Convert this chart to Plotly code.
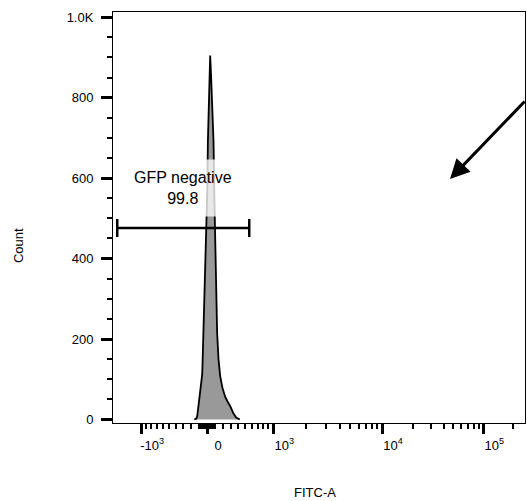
import numpy as np
import plotly.graph_objects as go

# ---------------- data ----------------
FITC = [-160, -135, -123, -111, -98, -86, -74, -61, -49, -37, -25, -12, 0, 9, 18, 28,
        37, 47, 57, 68, 78, 88, 98, 110, 123, 140, 161, 190, 225, 260, 290, 330, 370, 420]
COUNTS = [0, 2, 8, 28, 45, 62, 85, 112, 195, 280, 360, 444, 560, 693, 776, 850,
          905, 860, 810, 776, 693, 560, 444, 320, 215, 150, 108, 78, 56, 43, 33, 16, 5, 0]

GATE_RANGE = [-1650, 560]
GATE_COUNT = 476
GATE_NAME = "GFP negative"
GATE_PERCENT = "99.8"

XTICK_VALUES = [-1000, 0, 1000, 10000, 100000]
XTICK_LABELS = ["-10<sup>3</sup>", "0", "10<sup>3</sup>", "10<sup>4</sup>", "10<sup>5</sup>"]
YTICK_VALUES = [0, 200, 400, 600, 800, 1000]
YTICK_LABELS = ["0", "200", "400", "600", "800", "1.0K"]
X_LIMITS = [-1800, 262144]
Y_LIMITS = [-8.7, 1013]

# ---------------- biexponential (logicle-like) display transform ----------------
P = 2.25
C = 162.8


def _inverse(z):
    z = np.asarray(z, dtype=float)
    a = np.abs(z)
    return np.sign(z) * C * (10 ** a - P ** 2 * 10 ** (-a / P) + P ** 2 - 1)


_Z = np.linspace(-2.0, 4.0, 120001)
_XS = _inverse(_Z)


def biex(x):
    return np.interp(np.asarray(x, dtype=float), _XS, _Z)


minor_vals = []
for dec in [10, 100]:
    for m in range(1, 10):
        minor_vals += [m * dec, -m * dec]
for dec in [1000, 10000]:
    for m in range(2, 10):
        minor_vals.append(m * dec)
minor_vals.append(200000)

fig = go.Figure()

fig.add_trace(go.Scatter(
    x=biex(FITC), y=COUNTS, mode="lines", fill="tozeroy",
    fillcolor="#999999", line=dict(color="black", width=1.8),
    hoverinfo="skip", showlegend=False))

gx = biex(GATE_RANGE)
fig.add_trace(go.Scatter(
    x=list(gx), y=[GATE_COUNT, GATE_COUNT], mode="lines",
    line=dict(color="black", width=2.5), hoverinfo="skip", showlegend=False))
for xv in gx:
    fig.add_shape(type="line", xref="x", yref="y", x0=xv, x1=xv,
                  ysizemode="pixel", yanchor=GATE_COUNT, y0=-9, y1=9,
                  line=dict(color="black", width=2.5))

FONT = "Arial, Liberation Sans, sans-serif"
axis_font = dict(family=FONT, size=13, color="black")

fig.update_layout(
    width=527, height=501,
    margin=dict(l=113, r=2, t=12, b=78),
    paper_bgcolor="white", plot_bgcolor="white",
    font=axis_font, showlegend=False,
    xaxis=dict(
        range=list(biex(X_LIMITS)), tickmode="array",
        tickvals=list(biex(XTICK_VALUES)), ticktext=XTICK_LABELS,
        ticks="outside", ticklen=10, tickwidth=3, tickcolor="black",
        showline=True, linecolor="black", linewidth=1, mirror=True,
        showgrid=False, zeroline=False, tickfont=axis_font,
        ticklabelshift=11,
        minor=dict(tickmode="array", tickvals=list(biex(minor_vals)),
                   ticks="outside", ticklen=5, tickwidth=1.5,
                   tickcolor="black", showgrid=False),
    ),
    yaxis=dict(
        range=Y_LIMITS, tickmode="array", tickvals=YTICK_VALUES,
        ticktext=YTICK_LABELS, ticks="outside", ticklen=11, tickwidth=3,
        tickcolor="black", showline=True, linecolor="black", linewidth=1,
        mirror=True, showgrid=False, zeroline=False, tickfont=axis_font,
        ticklabelstandoff=5,
        minor=dict(tick0=0, dtick=50, ticks="outside", ticklen=5,
                   tickwidth=1.5, tickcolor="black", showgrid=False),
    ),
)

fig.add_annotation(
    text=f"{GATE_NAME}<br>{GATE_PERCENT}", xref="paper", yref="paper",
    x=0.1687, y=0.5718, xanchor="center", yanchor="middle", showarrow=False,
    font=dict(family=FONT, size=16, color="black"),
    bgcolor="rgba(255,255,255,0.78)", borderpad=9)

fig.add_annotation(
    text="", xref="paper", yref="paper", x=0.818, y=0.5937,
    ax=76, ay=-79, showarrow=True, arrowhead=2, arrowsize=1.3,
    arrowwidth=3, arrowcolor="black")

fig.add_annotation(
    text="FITC-A", xref="paper", yref="paper", x=0.49, y=-0.168,
    xanchor="center", yanchor="middle", showarrow=False,
    font=dict(family=FONT, size=13, color="black"))

fig.add_annotation(
    text="Count", xref="paper", yref="paper", x=-0.2306, y=0.433,
    xanchor="center", yanchor="middle", textangle=-90, showarrow=False,
    font=dict(family=FONT, size=13, color="black"))

fig.write_html("out.html", config={"displayModeBar": False},
               post_script="document.body.style.margin='0';")
